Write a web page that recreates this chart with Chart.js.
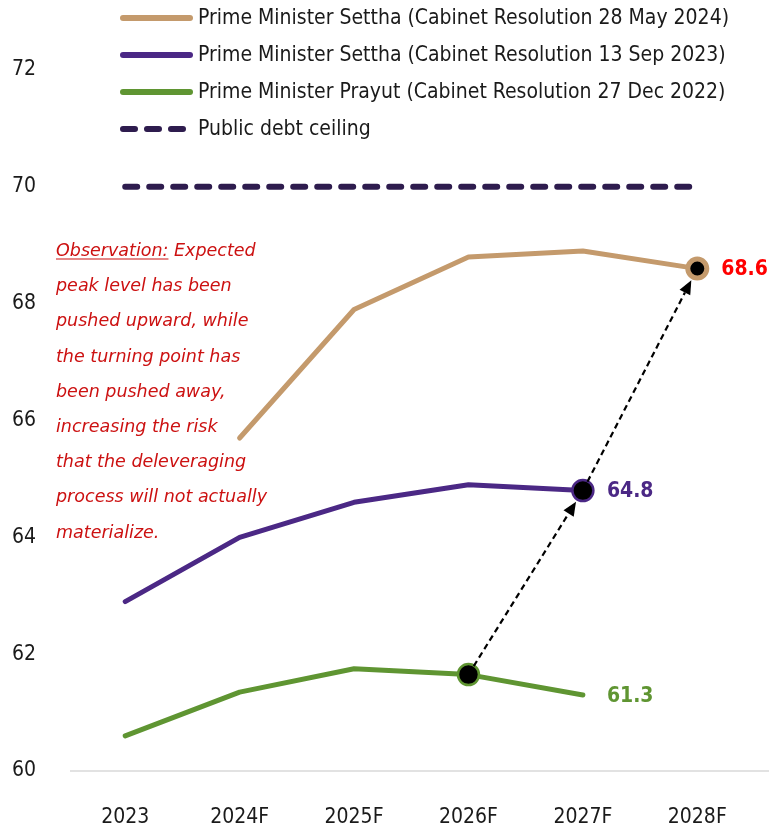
<!DOCTYPE html>
<html>
<head>
<meta charset="utf-8">
<title>Thailand public debt to GDP projections</title>
<script src="https://cdn.jsdelivr.net/npm/chart.js@4.4.1/dist/chart.umd.min.js"></script>
<style>
  html, body { margin: 0; padding: 0; background: #ffffff; }
  canvas { display: block; }
</style>
</head>
<body>
<canvas id="debtChart" width="769" height="830"></canvas>
<script>
// Public debt to GDP (%), by fiscal-plan vintage
const years = ['2023', '2024F', '2025F', '2026F', '2027F', '2028F'];
const setthaMay2024 = [null, 65.7, 67.9, 68.8, 68.9, 68.6];
const setthaSep2023 = [62.9, 64.0, 64.6, 64.9, 64.8, null];
const prayutDec2022 = [60.6, 61.35, 61.75, 61.65, 61.3, null];
const debtCeiling = [70, 70, 70, 70, 70, 70];

const seriesNames = [
  'Prime Minister Settha (Cabinet Resolution 28 May 2024)',
  'Prime Minister Settha (Cabinet Resolution 13 Sep 2023)',
  'Prime Minister Prayut (Cabinet Resolution 27 Dec 2022)',
  'Public debt ceiling'
];
const yMin = 60, yMax = 72, yStep = 2;

const noteHead = 'Observation:';
const noteLines = [
  ' Expected',
  'peak level has been',
  'pushed upward, while',
  'the turning point has',
  'been pushed away,',
  'increasing the risk',
  'that the deleveraging',
  'process will not actually',
  'materialize.'
];

// [dataset, index] pairs: markers and the arrows joining them
const highlighted = [[0, 5], [1, 4], [2, 3]];
const arrows = [[[2, 3], [1, 4]], [[1, 4], [0, 5]]];
// end-point value labels: [dataset, index, colour]
const endLabels = [[0, 5, '#ff0000'], [1, 4, '#4b2885'], [2, 4, '#5f9532']];

const FONT = '"DejaVu Sans Condensed", "Liberation Sans", sans-serif';
const NOTE_FONT = '"DejaVu Sans", "Open Sans", sans-serif';

const colours = ['#c49a6c', '#4b2885', '#5f9532', '#2e1c4e'];

function isHighlighted(ds, i) {
  return highlighted.some(h => h[0] === ds && h[1] === i);
}

const decorations = {
  id: 'decorations',
  beforeDatasetsDraw(chart) {
    const { ctx, chartArea, scales } = chart;
    const y0 = scales.y.getPixelForValue(yMin);
    ctx.save();
    ctx.strokeStyle = '#d9d9d9';
    ctx.lineWidth = 1.5;
    ctx.beginPath();
    ctx.moveTo(chartArea.left + 2, y0);
    ctx.lineTo(chart.width, y0);
    ctx.stroke();
    ctx.restore();
  },
  afterDatasetsDraw(chart) {
    const { ctx } = chart;
    const pt = (d, i) => chart.getDatasetMeta(d).data[i];

    // dashed arrows between highlighted points
    arrows.forEach(([a, b]) => {
      const p = pt(a[0], a[1]), q = pt(b[0], b[1]);
      const dx = q.x - p.x, dy = q.y - p.y;
      const len = Math.hypot(dx, dy);
      const ux = dx / len, uy = dy / len;
      const sx = p.x + ux * 10, sy = p.y + uy * 10;
      const tx = q.x - ux * 13, ty = q.y - uy * 13;
      const head = 14, half = 6;
      const bx = tx - ux * head, by = ty - uy * head;
      ctx.save();
      ctx.strokeStyle = '#000';
      ctx.lineWidth = 2.2;
      ctx.setLineDash([6, 4]);
      ctx.beginPath();
      ctx.moveTo(sx, sy);
      ctx.lineTo(bx, by);
      ctx.stroke();
      ctx.setLineDash([]);
      ctx.fillStyle = '#000';
      ctx.beginPath();
      ctx.moveTo(tx, ty);
      ctx.lineTo(bx - uy * half, by + ux * half);
      ctx.lineTo(bx + uy * half, by - ux * half);
      ctx.closePath();
      ctx.fill();
      ctx.restore();
    });

    // value labels at the series ends
    ctx.save();
    ctx.font = 'bold 21px ' + FONT;
    ctx.textBaseline = 'middle';
    ctx.textAlign = 'left';
    endLabels.forEach(([d, i, c]) => {
      const p = pt(d, i);
      const v = chart.data.datasets[d].data[i];
      ctx.fillStyle = c;
      ctx.fillText(v.toFixed(1), p.x + 24, p.y + 1);
    });
    ctx.restore();
  },
  afterDraw(chart) {
    const { ctx } = chart;
    // legend
    ctx.save();
    ctx.font = '21px ' + FONT;
    ctx.textBaseline = 'middle';
    chart.data.datasets.forEach((ds, k) => {
      const y = 18 + k * 37;
      ctx.strokeStyle = ds.borderColor;
      ctx.lineWidth = 6;
      ctx.lineCap = 'round';
      ctx.setLineDash(ds.borderDash && ds.borderDash.length ? [12, 12] : []);
      ctx.beginPath();
      ctx.moveTo(123, y);
      ctx.lineTo(190, y);
      ctx.stroke();
      ctx.setLineDash([]);
      ctx.fillStyle = '#1a1a1a';
      ctx.fillText(ds.label, 198, y + 1);
    });
    ctx.restore();

    // observation note
    ctx.save();
    ctx.font = 'italic 17.5px ' + NOTE_FONT;
    ctx.fillStyle = '#cc1111';
    ctx.strokeStyle = '#cc1111';
    ctx.textBaseline = 'alphabetic';
    const x0 = 56, base0 = 256, lh = 35.2;
    const hw = ctx.measureText(noteHead).width;
    ctx.fillText(noteHead, x0, base0);
    ctx.lineWidth = 1.2;
    ctx.beginPath();
    ctx.moveTo(x0, base0 + 3);
    ctx.lineTo(x0 + hw, base0 + 3);
    ctx.stroke();
    noteLines.forEach((t, k) => {
      if (k === 0) ctx.fillText(t, x0 + hw, base0);
      else ctx.fillText(t, x0, base0 + k * lh);
    });
    ctx.restore();
  }
};

const lineSet = (label, data, k) => ({
  label,
  data,
  borderColor: colours[k],
  backgroundColor: colours[k],
  borderWidth: 5,
  borderCapStyle: 'round',
  borderJoinStyle: 'round',
  tension: 0,
  spanGaps: false,
  pointRadius: c => isHighlighted(k, c.dataIndex) ? (k === 0 ? 9.5 : 10.5) : 0,
  pointHoverRadius: 0,
  pointBackgroundColor: '#000',
  pointBorderColor: colours[k],
  pointBorderWidth: k === 0 ? 5 : 2.5
});

new Chart(document.getElementById('debtChart'), {
  type: 'line',
  data: {
    labels: years,
    datasets: [
      lineSet(seriesNames[0], setthaMay2024, 0),
      lineSet(seriesNames[1], setthaSep2023, 1),
      lineSet(seriesNames[2], prayutDec2022, 2),
      {
        label: seriesNames[3],
        data: debtCeiling,
        borderColor: colours[3],
        backgroundColor: colours[3],
        borderWidth: 6,
        borderDash: [12, 12],
        borderCapStyle: 'round',
        pointRadius: 0,
        pointHoverRadius: 0
      }
    ]
  },
  options: {
    responsive: false,
    animation: false,
    layout: { padding: { top: 70, right: 14, bottom: 0, left: 0 } },
    plugins: {
      legend: { display: false },
      tooltip: { enabled: false }
    },
    scales: {
      x: {
        offset: true,
        grid: { display: false, drawTicks: false },
        border: { display: false },
        afterFit: s => { s.height = 59; },
        ticks: { font: { family: FONT, size: 21 }, color: '#1a1a1a', padding: 34, maxRotation: 0 }
      },
      y: {
        min: yMin,
        max: yMax,
        grid: { display: false, drawTicks: false },
        border: { display: false },
        afterFit: s => { s.width = 68; },
        ticks: { stepSize: yStep, font: { family: FONT, size: 21 }, color: '#1a1a1a', padding: 32 }
      }
    }
  },
  plugins: [decorations]
});
</script>
</body>
</html>
